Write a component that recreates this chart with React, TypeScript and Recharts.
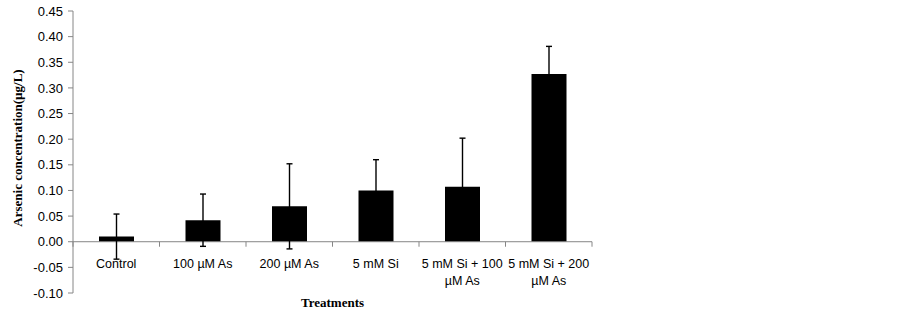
import { BarChart, Bar, XAxis, YAxis, ErrorBar, ReferenceLine } from "recharts";

const TREATMENTS = [
  "Control",
  "100 µM As",
  "200 µM As",
  "5 mM Si",
  "5 mM Si + 100 µM As",
  "5 mM Si + 200 µM As",
];
const ARSENIC = [0.01, 0.042, 0.069, 0.1, 0.107, 0.327];
const ERRORS = [0.044, 0.051, 0.083, 0.06, 0.095, 0.054];
const Y_TICKS = [-0.1, -0.05, 0, 0.05, 0.1, 0.15, 0.2, 0.25, 0.3, 0.35, 0.4, 0.45];

const data = TREATMENTS.map((name, i) => ({
  name,
  value: ARSENIC[i],
  err: ERRORS[i],
}));

// layout
const W = 903;
const H = 315;
const X_AXIS_H = 22;
const MARGIN = { top: 11, right: 311, bottom: 0, left: 0 };
const Y_AXIS_W = 73;
const PLOT_W = W - MARGIN.left - MARGIN.right - Y_AXIS_W;
const PLOT_H = H - MARGIN.top - MARGIN.bottom - X_AXIS_H;
const Y_MIN = -0.1;
const Y_MAX = 0.45;
const BAND = PLOT_W / TREATMENTS.length;
// distance from plot bottom up to the zero line
const ZERO_UP = (PLOT_H * (0 - Y_MIN)) / (Y_MAX - Y_MIN);

const AXIS_GREY = "#868686";
const SANS = "'Liberation Sans', Arial, sans-serif";
const SERIF = "'Liberation Serif', 'Times New Roman', serif";

// long labels wrap before the "µM As" part, like Excel did
function splitLabel(s: string): string[] {
  if (s.length <= 12) return [s];
  const i = s.lastIndexOf(" µM");
  return i > 0 ? [s.slice(0, i), s.slice(i + 1)] : [s];
}

function CategoryTick(props: any) {
  const { x, index, payload } = props;
  const zeroY = MARGIN.top + PLOT_H - ZERO_UP;
  const left = x - BAND / 2;
  const lines = splitLabel(String(payload.value));
  return (
    <g>
      <line x1={left} x2={left} y1={zeroY} y2={zeroY + 5} stroke={AXIS_GREY} />
      {index === TREATMENTS.length - 1 && (
        <line x1={x + BAND / 2} x2={x + BAND / 2} y1={zeroY} y2={zeroY + 5} stroke={AXIS_GREY} />
      )}
      <text x={x} y={zeroY + 26} textAnchor="middle" fontFamily={SANS} fontSize={12.5} fill="#000">
        {lines.map((l, k) => (
          <tspan key={k} x={x} dy={k === 0 ? 0 : 17}>
            {l}
          </tspan>
        ))}
      </text>
    </g>
  );
}

export default function App() {
  return (
    <div style={{ position: "absolute", left: 0, top: 0, background: "#fff" }}>
      <BarChart width={W} height={H} data={data} margin={MARGIN} barSize={35}>
        <XAxis
          dataKey="name"
          height={X_AXIS_H}
          axisLine={false}
          tickLine={false}
          interval={0}
          tick={<CategoryTick />}
          label={{
            content: ({ viewBox }: any) => (
              <text
                x={viewBox.x + viewBox.width / 2}
                y={MARGIN.top + PLOT_H + 14}
                textAnchor="middle"
                fontFamily={SERIF}
                fontWeight="bold"
                fontSize={13}
                fill="#000"
              >
                Treatments
              </text>
            ),
          }}
        />
        <YAxis
          width={Y_AXIS_W}
          domain={[Y_MIN, Y_MAX]}
          ticks={Y_TICKS}
          interval={0}
          allowDataOverflow
          tickFormatter={(v: number) => v.toFixed(2)}
          tick={{ fontFamily: SANS, fontSize: 13, fill: "#000" }}
          axisLine={{ stroke: AXIS_GREY }}
          tickLine={{ stroke: AXIS_GREY }}
          tickSize={5}
          tickMargin={5}
          label={{
            content: ({ viewBox }: any) => {
              const cx = viewBox.x + 17;
              const cy = viewBox.y + viewBox.height / 2 - 4;
              return (
                <text
                  transform={`translate(${cx},${cy}) rotate(-90)`}
                  textAnchor="middle"
                  dominantBaseline="central"
                  fontFamily={SERIF}
                  fontWeight="bold"
                  fontSize={13}
                  fill="#000"
                >
                  Arsenic concentration(µg/L)
                </text>
              );
            },
          }}
        />
        <ReferenceLine y={0} stroke={AXIS_GREY} />
        <Bar dataKey="value" fill="#000" isAnimationActive={false}>
          <ErrorBar dataKey="err" width={3} stroke="#000" strokeWidth={1.4} />
        </Bar>
      </BarChart>
    </div>
  );
}
